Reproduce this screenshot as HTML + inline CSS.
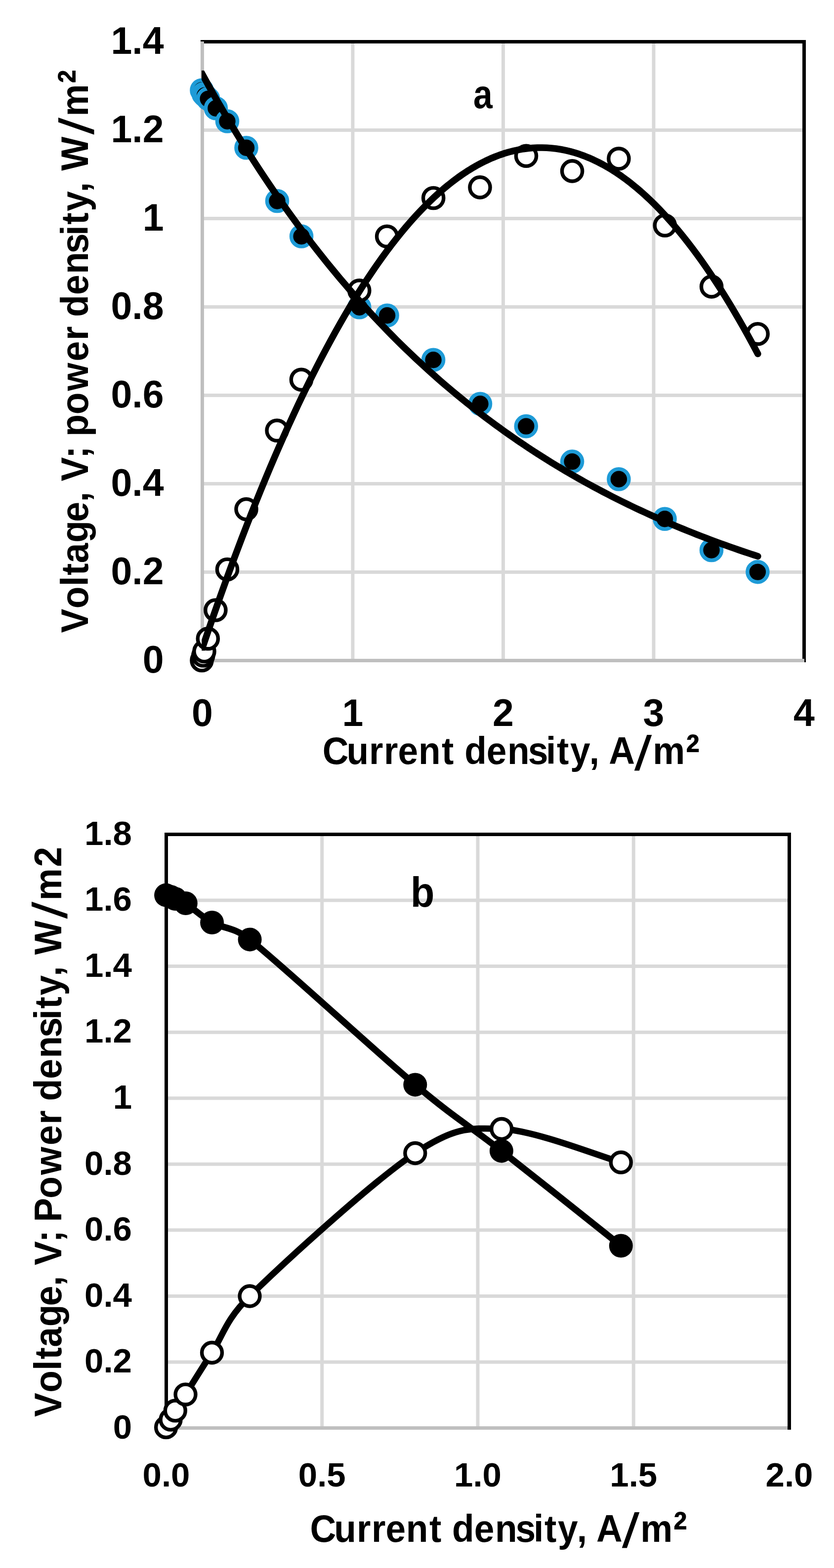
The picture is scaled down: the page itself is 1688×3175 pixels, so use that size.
<!DOCTYPE html>
<html lang="en">
<head>
<meta charset="utf-8">
<style>
html,body{margin:0;padding:0;background:#fff}
body{width:1688px;height:3175px;overflow:hidden}
svg{display:block}
</style>
</head>
<body>
<svg width="1688" height="3175" viewBox="0 0 1688 3175" shape-rendering="geometricPrecision">
<rect width="1688" height="3175" fill="#fff"/>
<g id="chart-a">
<g stroke="#D9D9D9" stroke-width="7" fill="none">
<line x1="409.45" y1="1158.5" x2="1627.5" y2="1158.5"/>
<line x1="409.45" y1="979.5" x2="1627.5" y2="979.5"/>
<line x1="409.45" y1="800.5" x2="1627.5" y2="800.5"/>
<line x1="409.45" y1="621.5" x2="1627.5" y2="621.5"/>
<line x1="409.45" y1="442.5" x2="1627.5" y2="442.5"/>
<line x1="409.45" y1="263.5" x2="1627.5" y2="263.5"/>
<line x1="713.96" y1="1337.5" x2="713.96" y2="84.5"/>
<line x1="1018.47" y1="1337.5" x2="1018.47" y2="84.5"/>
<line x1="1322.99" y1="1337.5" x2="1322.99" y2="84.5"/>
</g>
<path d="M405.95 84.5H1627.5V1341" fill="none" stroke="#000" stroke-width="7" stroke-linejoin="miter"/>
<path d="M409.45 84V1337.5H1628" fill="none" stroke="#BFBFBF" stroke-width="7" stroke-linejoin="miter"/>
<g fill="#000" stroke="#1E9BD7" stroke-width="7.6">
<circle cx="408.5" cy="182.8" r="20.5"/>
<circle cx="412" cy="190.4" r="20.5"/>
<circle cx="414.6" cy="193.2" r="20.5"/>
<circle cx="421.2" cy="200.1" r="20.5"/>
<circle cx="436.9" cy="219.3" r="20.5"/>
<circle cx="460" cy="245.5" r="20.5"/>
<circle cx="498.5" cy="299.3" r="20.5"/>
<circle cx="561" cy="407" r="20.5"/>
<circle cx="610.1" cy="478.5" r="20.5"/>
<circle cx="727.3" cy="622.2" r="20.5"/>
<circle cx="783.6" cy="638.8" r="20.5"/>
<circle cx="877.1" cy="728.8" r="20.5"/>
<circle cx="972" cy="817.8" r="20.5"/>
<circle cx="1064.8" cy="863.1" r="20.5"/>
<circle cx="1158.1" cy="934.6" r="20.5"/>
<circle cx="1252.4" cy="970.2" r="20.5"/>
<circle cx="1345.5" cy="1050.8" r="20.5"/>
<circle cx="1440" cy="1114" r="20.5"/>
<circle cx="1533.4" cy="1158.1" r="20.5"/>
</g>
<g fill="#fff" stroke="#000" stroke-width="7.4">
<circle cx="408.5" cy="1337.3" r="20.6"/>
<circle cx="411.3" cy="1327.5" r="20.6"/>
<circle cx="413.5" cy="1319" r="20.6"/>
<circle cx="420.8" cy="1293.2" r="20.6"/>
<circle cx="436.4" cy="1235.5" r="20.6"/>
<circle cx="460" cy="1153" r="20.6"/>
<circle cx="498.5" cy="1031.1" r="20.6"/>
<circle cx="560.6" cy="871.8" r="20.6"/>
<circle cx="609.9" cy="768.8" r="20.6"/>
<circle cx="727.3" cy="588.3" r="20.6"/>
<circle cx="783.2" cy="478.7" r="20.6"/>
<circle cx="877.2" cy="401" r="20.6"/>
<circle cx="971.5" cy="379.4" r="20.6"/>
<circle cx="1065" cy="315.8" r="20.6"/>
<circle cx="1158.1" cy="346.4" r="20.6"/>
<circle cx="1252.4" cy="321.3" r="20.6"/>
<circle cx="1345.8" cy="456.5" r="20.6"/>
<circle cx="1440.1" cy="580.4" r="20.6"/>
<circle cx="1533.6" cy="676.2" r="20.6"/>
</g>
<clipPath id="clipA"><rect x="408" y="142.8" width="1300" height="1300"/></clipPath>
<clipPath id="clipP"><rect x="408.2" y="0" width="1300" height="1317.5"/></clipPath>
<g fill="none" stroke="#000" stroke-width="13.6" stroke-linecap="round" stroke-linejoin="round">
<path clip-path="url(#clipA)" d="M394.22 122.19L403.72 139.79L413.22 157.13L422.72 174.23L432.21 191.07L441.71 207.67L451.21 224.03L460.7 240.16L470.2 256.05L479.7 271.71L489.19 287.14L498.69 302.35L508.19 317.34L517.69 332.11L527.18 346.67L536.68 361.02L546.18 375.16L555.67 389.09L565.17 402.83L574.67 416.36L584.16 429.7L593.66 442.84L603.16 455.8L612.65 468.57L622.15 481.15L631.65 493.55L641.15 505.77L650.64 517.82L660.14 529.68L669.64 541.38L679.13 552.91L688.63 564.27L698.13 575.47L707.62 586.5L717.12 597.38L726.62 608.1L736.12 618.66L745.61 629.07L755.11 639.33L764.61 649.44L774.1 659.4L783.6 669.22L793.1 678.89L802.59 688.43L812.09 697.83L821.59 707.09L831.09 716.22L840.58 725.22L850.08 734.08L859.58 742.82L869.07 751.43L878.57 759.92L888.07 768.28L897.56 776.53L907.06 784.65L916.56 792.66L926.06 800.54L935.55 808.32L945.05 815.98L954.55 823.53L964.04 830.98L973.54 838.31L983.04 845.54L992.53 852.66L1002.03 859.69L1011.53 866.6L1021.03 873.42L1030.52 880.14L1040.02 886.77L1049.52 893.29L1059.01 899.73L1068.51 906.06L1078.01 912.31L1087.5 918.47L1097 924.54L1106.5 930.52L1116 936.41L1125.49 942.22L1134.99 947.94L1144.49 953.58L1153.98 959.14L1163.48 964.62L1172.98 970.02L1182.47 975.34L1191.97 980.59L1201.47 985.75L1210.96 990.85L1220.46 995.87L1229.96 1000.81L1239.46 1005.69L1248.95 1010.49L1258.45 1015.23L1267.95 1019.9L1277.44 1024.5L1286.94 1029.03L1296.44 1033.49L1305.93 1037.9L1315.43 1042.24L1324.93 1046.51L1334.43 1050.72L1343.92 1054.88L1353.42 1058.97L1362.92 1063L1372.41 1066.98L1381.91 1070.9L1391.41 1074.76L1400.9 1078.56L1410.4 1082.31L1419.9 1086.01L1429.4 1089.65L1438.89 1093.24L1448.39 1096.77L1457.89 1100.26L1467.38 1103.69L1476.88 1107.08L1486.38 1110.42L1495.87 1113.7L1505.37 1116.95L1514.87 1120.14L1524.37 1123.29L1533.86 1126.39"/>
<path clip-path="url(#clipP)" d="M394.22 1358.1L403.72 1329.56L413.22 1301.41L422.72 1273.64L432.21 1246.27L441.71 1219.29L451.21 1192.7L460.7 1166.5L470.2 1140.68L479.7 1115.26L489.19 1090.23L498.69 1065.59L508.19 1041.33L517.69 1017.47L527.18 994L536.68 970.91L546.18 948.22L555.67 925.92L565.17 904L574.67 882.48L584.16 861.34L593.66 840.6L603.16 820.24L612.65 800.28L622.15 780.7L631.65 761.52L641.15 742.72L650.64 724.32L660.14 706.3L669.64 688.68L679.13 671.44L688.63 654.59L698.13 638.14L707.62 622.07L717.12 606.39L726.62 591.11L736.12 576.21L745.61 561.7L755.11 547.58L764.61 533.86L774.1 520.52L783.6 507.57L793.1 495.01L802.59 482.84L812.09 471.07L821.59 459.68L831.09 448.68L840.58 438.07L850.08 427.85L859.58 418.02L869.07 408.58L878.57 399.53L888.07 390.87L897.56 382.6L907.06 374.72L916.56 367.23L926.06 360.13L935.55 353.42L945.05 347.1L954.55 341.16L964.04 335.62L973.54 330.47L983.04 325.71L992.53 321.34L1002.03 317.36L1011.53 313.76L1021.03 310.56L1030.52 307.75L1040.02 305.33L1049.52 303.29L1059.01 301.65L1068.51 300.4L1078.01 299.53L1087.5 299.06L1097 298.97L1106.5 299.28L1116 299.98L1125.49 301.06L1134.99 302.54L1144.49 304.4L1153.98 306.66L1163.48 309.3L1172.98 312.34L1182.47 315.76L1191.97 319.58L1201.47 323.78L1210.96 328.37L1220.46 333.36L1229.96 338.73L1239.46 344.49L1248.95 350.65L1258.45 357.19L1267.95 364.12L1277.44 371.45L1286.94 379.16L1296.44 387.26L1305.93 395.75L1315.43 404.64L1324.93 413.91L1334.43 423.57L1343.92 433.62L1353.42 444.06L1362.92 454.89L1372.41 466.11L1381.91 477.72L1391.41 489.73L1400.9 502.12L1410.4 514.9L1419.9 528.07L1429.4 541.63L1438.89 555.58L1448.39 569.92L1457.89 584.64L1467.38 599.76L1476.88 615.27L1486.38 631.17L1495.87 647.46L1505.37 664.14L1514.87 681.21L1524.37 698.67L1533.86 716.51"/>
</g>
<g font-family='"Liberation Sans", sans-serif' font-weight="bold" fill="#000">
<g font-size="77" text-anchor="end">
<text x="331.5" y="1361.9">0</text>
<text x="331.5" y="1182.9">0.2</text>
<text x="331.5" y="1003.9">0.4</text>
<text x="331.5" y="824.9">0.6</text>
<text x="331.5" y="645.9">0.8</text>
<text x="331.5" y="466.9">1</text>
<text x="331.5" y="287.9">1.2</text>
<text x="331.5" y="108.9">1.4</text>
</g>
<g font-size="77" text-anchor="middle">
<text x="409.45" y="1470">0</text>
<text x="713.96" y="1470">1</text>
<text x="1018.47" y="1470">2</text>
<text x="1322.99" y="1470">3</text>
<text x="1627.5" y="1470">4</text>
</g>
<text transform="translate(0 1547.4) scale(0.95 1)" font-size="77"><tspan x="687.02 738.3 786.32 818.01 847.98 891.48 941.15" y="0">Current</tspan> <tspan x="989.69 1036.71 1081.11 1124.98 1163.26 1186.41 1214.8 1255.54" y="0">density,</tspan> <tspan x="1297.07" y="0">A</tspan><tspan x="1351.37" y="11.3" font-size="98.8" font-weight="normal" textLength="37.44" lengthAdjust="spacingAndGlyphs">/</tspan><tspan x="1390.9" y="0">m</tspan><tspan x="1460.94" y="9.4" font-size="100.6" textLength="29.51" lengthAdjust="spacingAndGlyphs">²</tspan></text>
<text transform="translate(177.7 3175) rotate(-90) scale(0.95 1)" font-size="77"><tspan x="1993.14 2045.05 2092.53 2115.78 2141.93 2185.64 2229.82 2272.27" y="0">Voltage,</tspan> <tspan x="2316.41 2365.25" y="0">V;</tspan> <tspan x="2411.76 2458.73 2509.01 2572.19 2616.8" y="0">power</tspan> <tspan x="2666.64 2713.66 2758.06 2801.93 2840.21 2863.36 2891.75 2932.48" y="0">density,</tspan> <tspan x="2978.2" y="0">W</tspan><tspan x="3054.95" y="11.3" font-size="98.8" font-weight="normal" textLength="36.7" lengthAdjust="spacingAndGlyphs">/</tspan><tspan x="3094.17" y="0">m</tspan><tspan x="3164.36" y="9.4" font-size="100.6" textLength="28.9" lengthAdjust="spacingAndGlyphs">²</tspan></text>
<text transform="translate(957.9 219) scale(0.85 1)" font-size="82">a</text>
</g>
</g>
<g id="chart-b">
<g stroke="#D9D9D9" stroke-width="7" fill="none">
<line x1="336.5" y1="2757.94" x2="1597.5" y2="2757.94"/>
<line x1="336.5" y1="2624.39" x2="1597.5" y2="2624.39"/>
<line x1="336.5" y1="2490.83" x2="1597.5" y2="2490.83"/>
<line x1="336.5" y1="2357.28" x2="1597.5" y2="2357.28"/>
<line x1="336.5" y1="2223.72" x2="1597.5" y2="2223.72"/>
<line x1="336.5" y1="2090.17" x2="1597.5" y2="2090.17"/>
<line x1="336.5" y1="1956.61" x2="1597.5" y2="1956.61"/>
<line x1="336.5" y1="1823.06" x2="1597.5" y2="1823.06"/>
<line x1="651.75" y1="2891.5" x2="651.75" y2="1689.5"/>
<line x1="967" y1="2891.5" x2="967" y2="1689.5"/>
<line x1="1282.25" y1="2891.5" x2="1282.25" y2="1689.5"/>
</g>
<path d="M336.5 2891.5H1597.5" fill="none" stroke="#BFBFBF" stroke-width="7"/>
<path d="M336.5 2888V1689.5H1597.5V2895" fill="none" stroke="#000" stroke-width="7" stroke-linejoin="miter"/>
<path d="M336.1 1812.6C337.67 1813.17 342.38 1814.77 345.5 1816C348.62 1817.23 350.15 1818 354.8 1820C359.85 1822.17 366.2 1822.8 375.8 1829C388.18 1837 407.47 1855.77 429.1 1868C450.73 1880.23 472.83 1876.23 505.6 1902.4C574.13 1957.13 755.42 2125.07 840.3 2196.4C924.55 2267.2 945.48 2276.05 1014.9 2330.4C1084.32 2384.75 1216.48 2490.48 1256.8 2522.5" fill="none" stroke="#000" stroke-width="13.2" stroke-linecap="round" stroke-linejoin="round"/>
<g fill="#000">
<circle cx="336.1" cy="1812.6" r="24"/>
<circle cx="345.5" cy="1816" r="24"/>
<circle cx="354.8" cy="1820" r="24"/>
<circle cx="375.8" cy="1829" r="24"/>
<circle cx="429.1" cy="1868" r="24"/>
<circle cx="505.6" cy="1902.4" r="24"/>
<circle cx="840.3" cy="2196.4" r="24"/>
<circle cx="1014.9" cy="2330.4" r="24"/>
<circle cx="1256.8" cy="2522.5" r="24"/>
</g>
<path d="M336.1 2890.2C337.67 2887.62 342.38 2880.33 345.5 2874.7C348.62 2869.07 349.8 2864.92 354.8 2856.4C359.8 2847.88 365.14 2839.99 375.5 2823.6C387.87 2804.03 407.33 2772.18 429 2739C450.67 2705.82 456.38 2672.75 505.5 2624.5C574.05 2557.17 755.35 2391.42 840.3 2335C915.95 2284.76 945.78 2282.88 1015.2 2286C1084.62 2289.12 1216.53 2342.42 1256.8 2353.7" fill="none" stroke="#000" stroke-width="12.9" stroke-linecap="round" stroke-linejoin="round"/>
<g fill="#fff" stroke="#000" stroke-width="7.4">
<circle cx="336.1" cy="2890.2" r="20.45"/>
<circle cx="345.5" cy="2874.7" r="20.45"/>
<circle cx="354.8" cy="2856.4" r="20.45"/>
<circle cx="375.5" cy="2823.6" r="20.45"/>
<circle cx="429" cy="2739" r="20.45"/>
<circle cx="505.5" cy="2624.5" r="20.45"/>
<circle cx="840.3" cy="2335" r="20.45"/>
<circle cx="1015.2" cy="2286" r="20.45"/>
<circle cx="1256.8" cy="2353.7" r="20.45"/>
</g>
<g font-family='"Liberation Sans", sans-serif' font-weight="bold" fill="#000">
<g font-size="69" text-anchor="end">
<text x="267" y="2912.8">0</text>
<text x="267" y="2779.24">0.2</text>
<text x="267" y="2645.69">0.4</text>
<text x="267" y="2512.13">0.6</text>
<text x="267" y="2378.58">0.8</text>
<text x="267" y="2245.02">1</text>
<text x="267" y="2111.47">1.2</text>
<text x="267" y="1977.91">1.4</text>
<text x="267" y="1844.36">1.6</text>
<text x="267" y="1710.8">1.8</text>
</g>
<g font-size="69" text-anchor="middle">
<text x="336.5" y="3010.3">0.0</text>
<text x="651.75" y="3010.3">0.5</text>
<text x="967" y="3010.3">1.0</text>
<text x="1282.25" y="3010.3">1.5</text>
<text x="1597.5" y="3010.3">2.0</text>
</g>
<text transform="translate(0 3121.5) scale(0.95 1)" font-size="77"><tspan x="660.6 711.87 759.9 791.59 821.55 865.06 914.73" y="0">Current</tspan> <tspan x="963.27 1010.29 1054.69 1098.56 1136.84 1159.99 1188.38 1229.11" y="0">density,</tspan> <tspan x="1270.65" y="0">A</tspan><tspan x="1324.95" y="11.3" font-size="98.8" font-weight="normal" textLength="37.44" lengthAdjust="spacingAndGlyphs">/</tspan><tspan x="1364.48" y="0">m</tspan><tspan x="1434.52" y="9.4" font-size="100.6" textLength="29.51" lengthAdjust="spacingAndGlyphs">²</tspan></text>
<text transform="translate(124 3175) rotate(-90) scale(0.95 1)" font-size="77"><tspan x="321.99 373.89 421.37 444.62 470.77 514.48 558.66 601.11" y="0">Voltage,</tspan> <tspan x="645.25 694.09" y="0">V;</tspan> <tspan x="737.47 787.58 837.86 901.03 945.64" y="0">Power</tspan> <tspan x="995.48 1042.5 1086.9 1130.77 1169.05 1192.2 1220.59 1261.33" y="0">density,</tspan> <tspan x="1307.04" y="0">W</tspan><tspan x="1383.79" y="11.3" font-size="98.8" font-weight="normal" textLength="36.7" lengthAdjust="spacingAndGlyphs">/</tspan><tspan x="1423.01" y="0">m</tspan><tspan x="1494.19" y="0">2</tspan></text>
<text transform="translate(831 1836) scale(0.92 1)" font-size="86">b</text>
</g>
</g>
</svg>
</body>
</html>
